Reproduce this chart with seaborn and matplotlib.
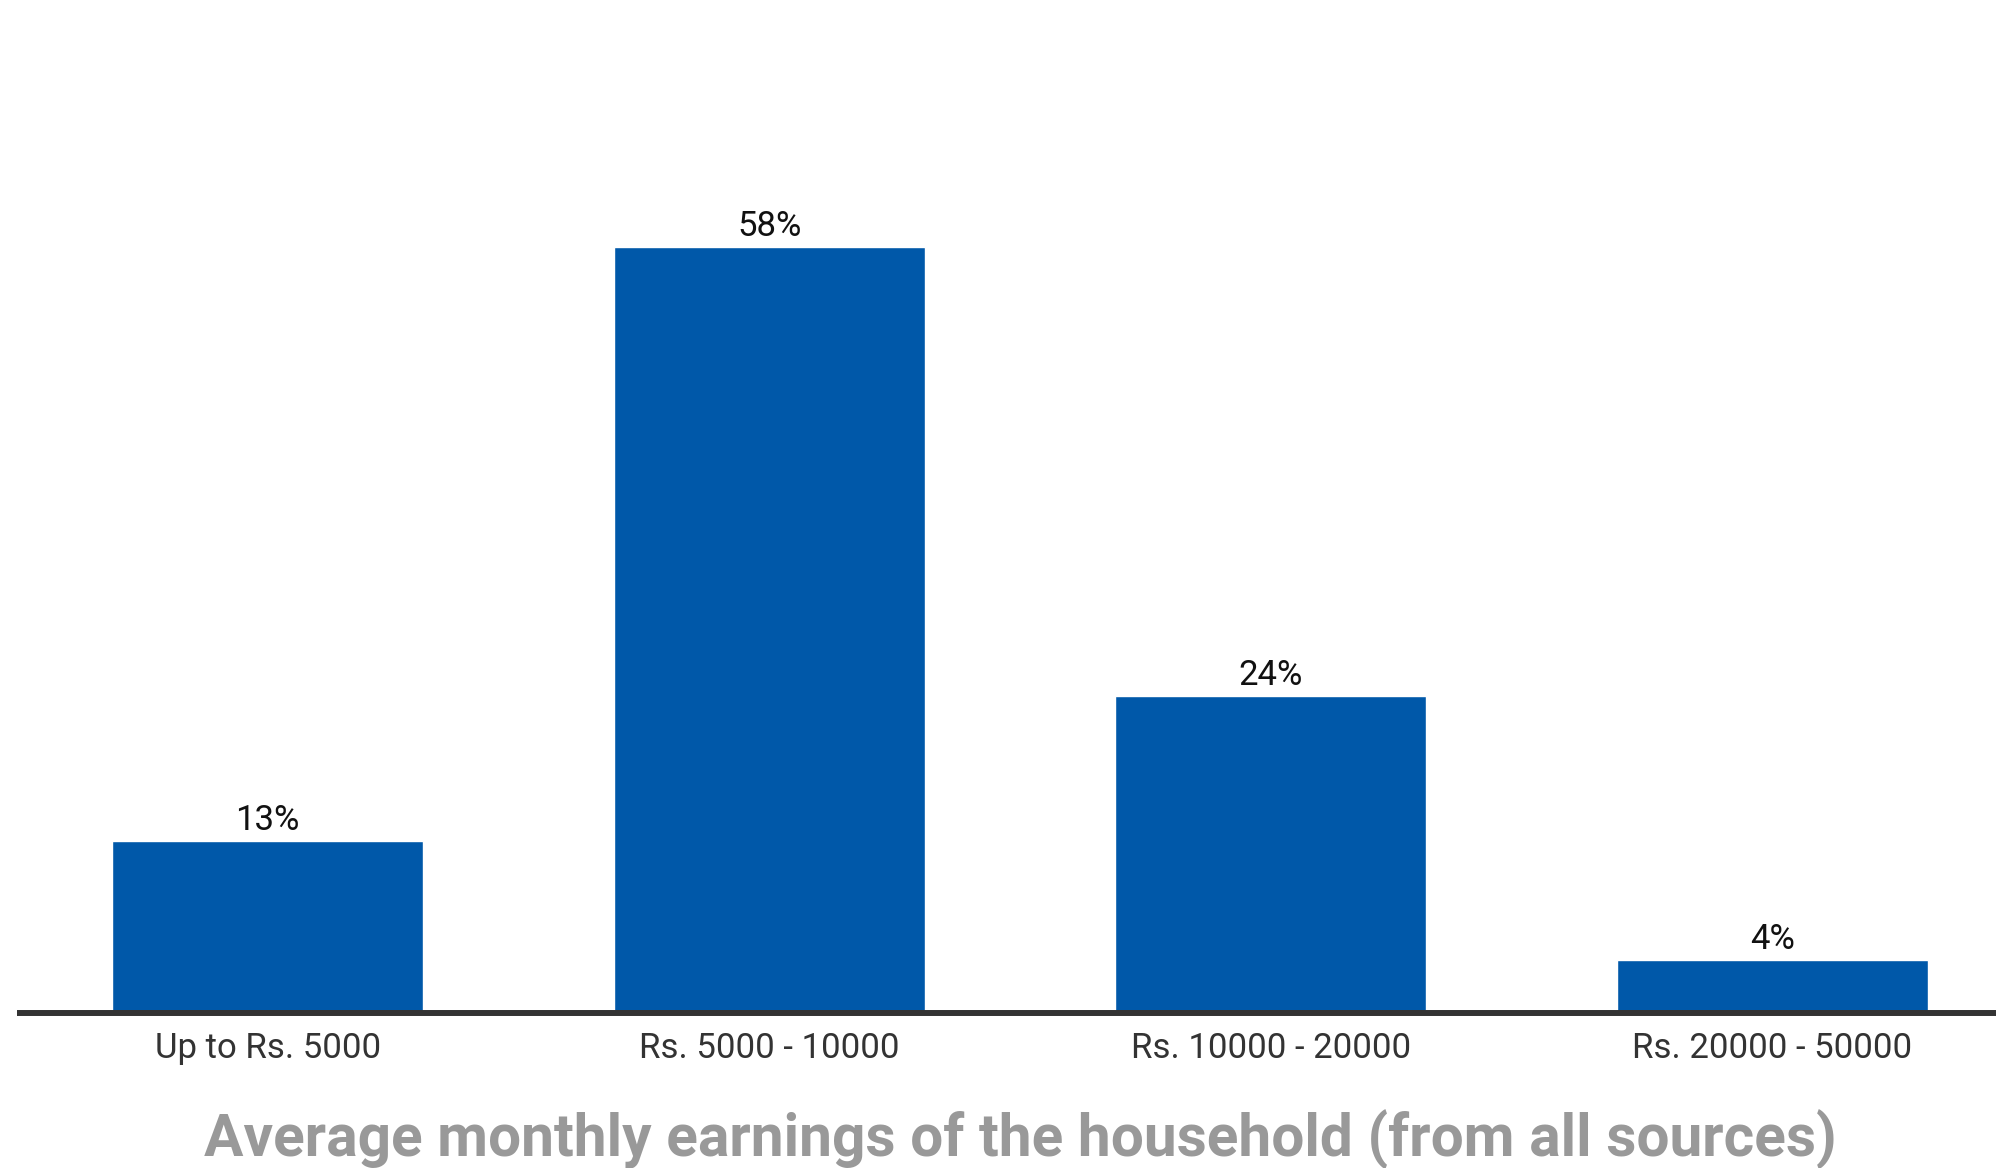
import matplotlib
matplotlib.use("Agg")
import matplotlib.pyplot as plt
import seaborn as sns
import pandas as pd

# Household income bands and share of respondents (%)
categories = ["Up to Rs. 5000", "Rs. 5000 - 10000", "Rs. 10000 - 20000", "Rs. 20000 - 50000"]
shares = [13, 58, 24, 4]
value_labels = ["13%", "58%", "24%", "4%"]
axis_title = "Average monthly earnings of the household (from all sources)"

sns.set_theme(style="white")
plt.rcParams["font.family"] = ["Roboto", "DejaVu Sans"]

df = pd.DataFrame({"band": categories, "share": shares})

fig = plt.figure(figsize=(19.96, 11.68), dpi=100)
ax = fig.add_axes([17 / 1996, (1168 - 1013) / 1168, 2006 / 1996, 924 / 1168])

sns.barplot(data=df, x="band", y="share", color="#0058A9", saturation=1,
            width=0.62, ax=ax)

ax.set_ylim(0, 70)
ax.set_xlim(-0.5, 3.5)

for container in ax.containers:
    ax.bar_label(container, labels=value_labels, padding=3,
                 fontsize=25, color="#111111")

for side in ["top", "right", "left"]:
    ax.spines[side].set_visible(False)
ax.spines["bottom"].set_color("#333333")
ax.spines["bottom"].set_linewidth(4.3)
ax.spines["bottom"].set_capstyle("butt")

ax.set_yticks([])
ax.set_ylabel("")
ax.tick_params(axis="x", length=0, pad=13.5, labelsize=25, labelcolor="#333333")
ax.set_xlabel(axis_title, fontsize=42.2, fontweight="bold", color="#999999",
              labelpad=32.5)

fig.savefig("out.png", dpi=100)
